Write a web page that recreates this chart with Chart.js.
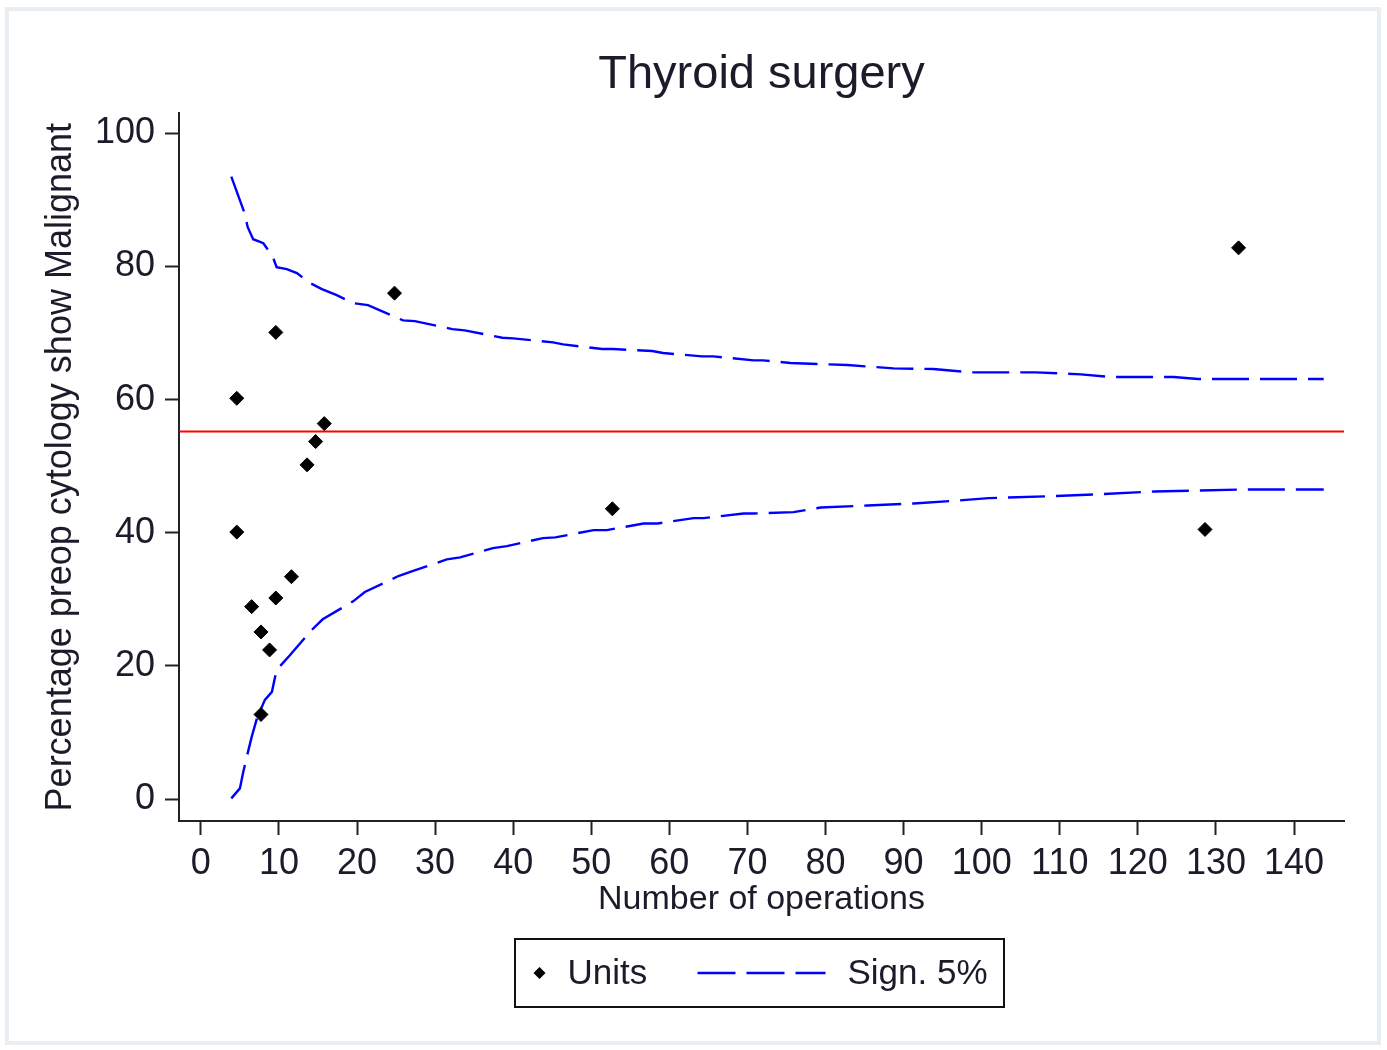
<!DOCTYPE html>
<html>
<head>
<meta charset="utf-8">
<title>Thyroid surgery</title>
<script src="https://cdn.jsdelivr.net/npm/chart.js@4/dist/chart.umd.min.js"></script>
<style>
    body { margin: 0; background: #ffffff; }
    .moldura {
        position: absolute; left: 5px; top: 7px; width: 1376px; height: 1038px;
        box-sizing: border-box; border: 4px solid #e8eef1;
    }
    .grafico { position: absolute; left: 0; top: 0; width: 1387px; height: 1050px; }
</style>
</head>
<body>
<div class="moldura"></div>
<div class="grafico"><canvas id="funil"></canvas></div>
<script>
/* unidades: numero de operacoes x % malignos */
const unidadesN = [4.6, 4.6, 9.6, 6.5, 7.7, 8.8, 9.6, 11.6, 7.7, 13.6, 14.7, 15.8, 24.8, 52.7, 128.6, 132.9]
const unidadesPct = [60.2, 40.1, 70.1, 28.9, 25.1, 22.4, 30.2, 33.4, 12.7, 50.2, 53.7, 56.4, 76.0, 43.6, 40.5, 82.8]

/* limites de 5% (superior e inferior) */
const superiorN = [3.9, 5.6, 6.0, 6.7, 8.0, 9.2, 9.7, 11.0, 12.3, 14.0, 15.5, 17.4, 19.5, 21.4, 25.9, 27.4, 32.2, 33.8, 38.6, 40.0, 45.1, 46.4, 51.4, 52.8, 57.8, 59.2, 64.2, 65.6, 70.8, 72.0, 75.5, 82.8, 88.7, 93.8, 98.6, 106.9, 112.7, 116.5, 124.6, 127.7, 139.2, 143.8]
const superiorPct = [93.5, 88.0, 85.9, 84.1, 83.5, 81.5, 79.9, 79.6, 79.0, 77.5, 76.6, 75.7, 74.5, 74.2, 71.9, 71.8, 70.6, 70.4, 69.3, 69.2, 68.6, 68.3, 67.6, 67.6, 67.3, 67.0, 66.5, 66.5, 65.9, 65.9, 65.5, 65.2, 64.7, 64.6, 64.1, 64.1, 63.8, 63.4, 63.4, 63.1, 63.1, 63.1]

const inferiorN = [3.9, 5.0, 5.4, 6.0, 6.5, 7.2, 8.2, 9.1, 9.7, 11.4, 14.2, 15.6, 19.5, 21.0, 25.3, 27.0, 31.5, 33.2, 37.4, 39.2, 43.8, 45.4, 50.3, 52.0, 56.7, 58.5, 63.1, 64.4, 69.5, 70.8, 75.9, 79.4, 85.4, 91.3, 97.6, 100.9, 109.1, 115.3, 122.1, 133.5, 139.2, 143.8]
const inferiorPct = [0.1, 1.6, 3.9, 6.9, 9.3, 12.2, 14.9, 16.1, 19.4, 21.6, 25.4, 27.0, 29.7, 31.1, 33.5, 34.2, 36.0, 36.3, 37.7, 38.0, 39.2, 39.3, 40.4, 40.4, 41.4, 41.4, 42.2, 42.2, 42.9, 42.9, 43.1, 43.8, 44.1, 44.4, 44.9, 45.2, 45.5, 45.8, 46.2, 46.5, 46.5, 46.5]

/* media geral e limites dos eixos */
const mediaPct = 55.2
const eixoX = [-2.8, 146.4]
const eixoY = [-3.3, 103]
const ticksX = [0, 10, 20, 30, 40, 50, 60, 70, 80, 90, 100, 110, 120, 130, 140]
const ticksY = [0, 20, 40, 60, 80, 100]

const corTexto = '#1b1b2a'
const fonte = "'Liberation Sans', Arial, sans-serif"

function pares(xs, ys) {
    return Array.from({ length: xs.length }, (item, i) => {
        return { x: xs[i], y: ys[i] }
    })
}

/* legenda desenhada com borda, embaixo do grafico */
const legendaCaixa = {
    id: 'legendaCaixa',
    afterDraw(chart) {
        const ctx = chart.ctx
        const area = chart.chartArea
        const cx = (area.left + area.right) / 2
        const topo = area.bottom + 118
        const meio = topo + 34

        ctx.save()
        ctx.strokeStyle = '#111'
        ctx.lineWidth = 2
        ctx.strokeRect(cx - 246.5, topo, 489, 68)

        // losango das unidades
        ctx.fillStyle = '#000'
        ctx.beginPath()
        ctx.moveTo(cx - 228, meio)
        ctx.lineTo(cx - 222, meio - 6)
        ctx.lineTo(cx - 216, meio)
        ctx.lineTo(cx - 222, meio + 6)
        ctx.closePath()
        ctx.fill()

        ctx.fillStyle = corTexto
        ctx.font = '35px ' + fonte
        ctx.textBaseline = 'middle'
        ctx.textAlign = 'left'
        ctx.fillText('Units', cx - 194, meio + 1)

        // tracejado dos limites
        ctx.strokeStyle = '#0000ff'
        ctx.lineWidth = 2.4
        ctx.setLineDash([38, 11])
        ctx.beginPath()
        ctx.moveTo(cx - 64, meio)
        ctx.lineTo(cx + 64, meio)
        ctx.stroke()
        ctx.setLineDash([])

        ctx.fillText('Sign. 5%', cx + 86, meio + 1)
        ctx.restore()
    }
}

const data = {
    datasets: [
        {
            label: 'Units',
            type: 'scatter',
            data: pares(unidadesN, unidadesPct),
            pointStyle: 'rectRot',
            pointRadius: 7,
            pointHoverRadius: 7,
            backgroundColor: '#000',
            borderColor: '#000',
            borderWidth: 1,
            order: 0
        },
        {
            label: 'Sign. 5%',
            type: 'line',
            data: pares(superiorN, superiorPct),
            borderColor: '#0000ff',
            borderWidth: 2.4,
            borderDash: [37, 11],
            pointRadius: 0,
            tension: 0,
            fill: false,
            order: 1
        },
        {
            label: 'Sign. 5% inferior',
            type: 'line',
            data: pares(inferiorN, inferiorPct),
            borderColor: '#0000ff',
            borderWidth: 2.4,
            borderDash: [37, 11],
            pointRadius: 0,
            tension: 0,
            fill: false,
            order: 1
        },
        {
            label: 'Media',
            type: 'line',
            data: pares(eixoX, [mediaPct, mediaPct]),
            borderColor: '#ff0000',
            borderWidth: 2,
            pointRadius: 0,
            fill: false,
            order: 2
        }
    ]
}

const config = {
    type: 'scatter',
    data: data,
    options: {
        responsive: true,
        maintainAspectRatio: false,
        animation: false,
        layout: { padding: { left: 0, top: 0, right: 43, bottom: 129 } },
        plugins: {
            legend: { display: false },
            tooltip: { enabled: false },
            title: {
                display: true,
                text: 'Thyroid surgery',
                fullSize: false,
                color: corTexto,
                font: { family: fonte, size: 47, weight: 'normal' },
                padding: { top: 47, bottom: 10 }
            }
        },
        scales: {
            x: {
                type: 'linear',
                min: eixoX[0],
                max: eixoX[1],
                afterBuildTicks: (scale) => { scale.ticks = ticksX.map(v => ({ value: v })) },
                afterFit: (scale) => { scale.height = 100 },
                grid: { drawOnChartArea: false, drawTicks: true, tickLength: 14, tickWidth: 2, tickColor: '#222' },
                border: { display: true, color: '#222', width: 2 },
                ticks: { color: corTexto, padding: 7, maxRotation: 0, font: { family: fonte, size: 36 } },
                title: {
                    display: true,
                    text: 'Number of operations',
                    color: corTexto,
                    font: { family: fonte, size: 34 },
                    padding: { top: 0, bottom: 1 }
                }
            },
            y: {
                type: 'linear',
                min: eixoY[0],
                max: eixoY[1],
                afterBuildTicks: (scale) => { scale.ticks = ticksY.map(v => ({ value: v })) },
                afterFit: (scale) => { scale.width = 179 },
                grid: { drawOnChartArea: false, drawTicks: true, tickLength: 14, tickWidth: 2, tickColor: '#222' },
                border: { display: true, color: '#222', width: 2 },
                ticks: { color: corTexto, padding: 10, font: { family: fonte, size: 36 } },
                title: {
                    display: true,
                    text: 'Percentage preop cytology show Malignant',
                    color: corTexto,
                    font: { family: fonte, size: 36 },
                    padding: { top: 39, bottom: 0 }
                }
            }
        }
    },
    plugins: [legendaCaixa]
}

let graf = document.querySelector('#funil').getContext('2d')
let myChart = new Chart(graf, config)
</script>
</body>
</html>
